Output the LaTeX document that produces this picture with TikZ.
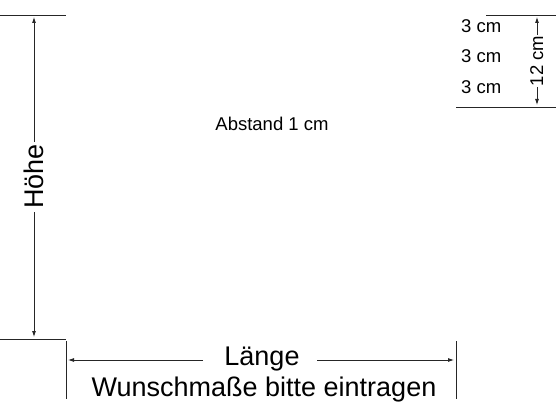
\documentclass[tikz,border=0pt]{standalone}
\usepackage{fontspec}
\setmainfont{Liberation Sans}
\usetikzlibrary{arrows.meta}
\begin{document}
\begin{tikzpicture}[x=1pt,y=1pt,
  ln/.style={line width=0.8pt,draw=black!85},
  arr/.style={ln,-{Latex[length=6pt,width=4pt]}},
  big/.style={font=\fontsize{27}{31}\selectfont,inner sep=0pt},
  small/.style={font=\fontsize{18.5}{22}\selectfont,inner sep=0pt}]
\useasboundingbox (0,0) rectangle (560,-420);
% left height dimension
\coordinate (tl1) at (0,-15); \coordinate (tl2) at (66,-15);
\coordinate (bl1) at (0,-339); \coordinate (bl2) at (66,-339);
\draw[ln] (tl1) -- (tl2);
\draw[ln] (bl1) -- (bl2);
\node[big,rotate=90,anchor=base] (hoehe) at (43,-176.5) {Höhe};
\coordinate (htop) at (34,-17);
\coordinate (hbot) at (34,-337);
\draw[arr] (htop |- 0,-142) -- (htop);
\draw[arr] (hbot |- 0,-212) -- (hbot);
% bottom length dimension
\coordinate (vl1) at (66,-341); \coordinate (vl2) at (66,-399);
\coordinate (vr1) at (456,-341); \coordinate (vr2) at (456,-399);
\draw[ln] (vl1) -- (vl2);
\draw[ln] (vr1) -- (vr2);
\node[big,anchor=base] (laenge) at (262,-365) {Länge};
\coordinate (lenL) at (68,-360);
\coordinate (lenR) at (454,-360);
\draw[arr] (203,-360) -- (lenL);
\draw[arr] (317,-360) -- (lenR);
\node[big,anchor=base] (wunsch) at (264,-396) {Wunschmaße bitte eintragen};
% middle text
\node[small,anchor=base] (abstand) at (272,-130) {Abstand 1 cm};
% top right
\coordinate (tr1) at (486,-15); \coordinate (tr2) at (556,-15);
\coordinate (br1) at (456,-107); \coordinate (br2) at (556,-107);
\draw[ln] (tr1) -- (tr2);
\draw[ln] (br1) -- (br2);
\node[small,anchor=base west] (c1) at (461,-33) {3 cm};
\node[small,anchor=base west] (c2) at (461,-63) {3 cm};
\node[small,anchor=base west] (c3) at (461,-94) {3 cm};
\node[small,rotate=90,anchor=base] (twelve) at (543,-61) {12 cm};
\coordinate (ttop) at (537,-17);
\coordinate (tbot) at (537,-105);
\draw[arr] (537,-35) -- (ttop);
\draw[arr] (537,-87) -- (tbot);
\end{tikzpicture}
\end{document}
